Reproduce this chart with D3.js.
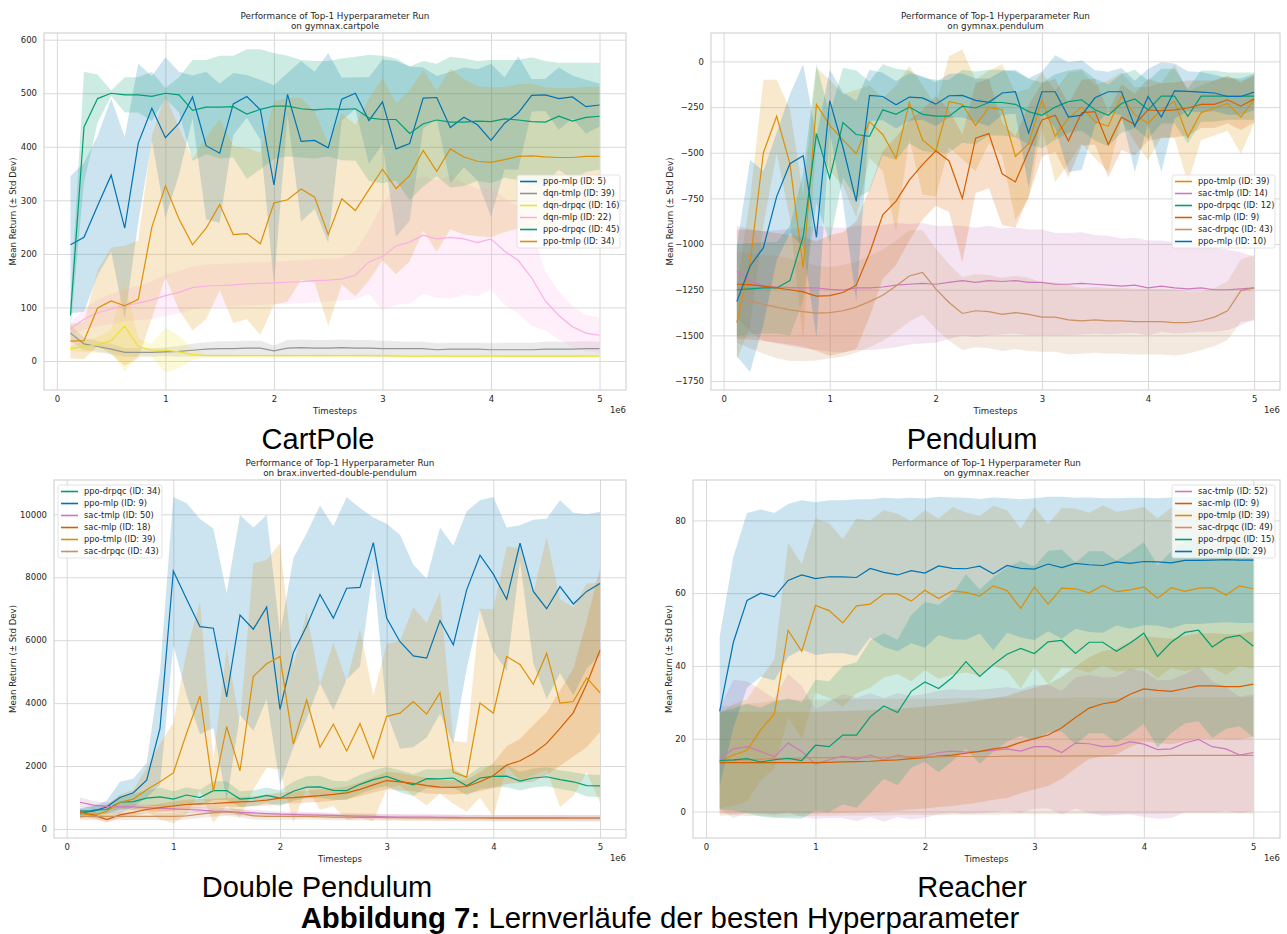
<!DOCTYPE html>
<html>
<head>
<meta charset="utf-8">
<script src="https://cdn.jsdelivr.net/npm/d3@7"></script>
<style>
  body { margin: 0; background: #fff; }
  text { font-family: "DejaVu Sans", sans-serif; fill: #262626; }
  .fig-label { font-family: "Liberation Sans", Arial, sans-serif; fill: #000; }
</style>
</head>
<body>
<svg id="fig" width="1287" height="934"></svg>
<script>
// timesteps in units of 1e6
const steps = [0.125, 0.25, 0.375, 0.5, 0.625, 0.75, 0.875, 1.0, 1.125, 1.25,
  1.375, 1.5, 1.625, 1.75, 1.875, 2.0, 2.125, 2.25, 2.375, 2.5,
  2.625, 2.75, 2.875, 3.0, 3.125, 3.25, 3.375, 3.5, 3.625, 3.75,
  3.875, 4.0, 4.125, 4.25, 4.375, 4.5, 4.625, 4.75, 4.875, 5.0];
const xTicks = [0, 1, 2, 3, 4, 5];

// ---- CartPole
const cpYTicks = [0, 100, 200, 300, 400, 500, 600];
const cpPpoMlp = [217,231,290,347,248,407,472,417,444,493, 402,388,480,494,469,329,498,410,412,398, 489,500,449,484,396,406,491,492,436,455, 441,412,444,463,496,497,490,493,475,478];
const cpPpoMlpStd = [128,139,130,143,170,148,60,150,96,40, 138,130,58,40,56,186,40,150,128,177, 40,30,81,79,164,144,57,40,104,93, 104,143,86,106,30,30,58,40,50,40];
const cpDqnTmlp = [52,32,27,22,16,16,16,17,18,20, 22,23,23,24,24,19,24,25,24,24, 25,24,24,23,23,23,23,21,22,22, 22,21,21,21,21,22,22,22,23,23];
const cpDqnTmlpStd = [15,12,10,10,8,8,8,8,10,12, 13,14,14,14,14,10,15,15,15,15, 15,15,15,15,14,13,13,12,12,12, 12,12,13,13,13,14,14,14,14,13];
const cpDqnDrpqc = [23,27,30,38,65,27,20,20,17,12, 10,10,10,10,10,10,10,10,10,10, 10,10,10,10,9,9,9,9,9,9, 9,9,9,9,9,9,9,9,9,9];
const cpDqnDrpqcStd = [5,10,15,20,85,15,12,42,30,10, 3,3,3,3,3,3,3,3,3,3, 3,3,3,3,3,3,3,3,3,3, 3,3,3,3,3,3,3,3,3,3];
const cpDqnMlp = [60,78,90,97,104,108,114,122,128,137, 140,141,142,144,145,146,147,148,150,151, 153,160,185,195,215,222,235,228,231,228, 221,228,205,188,155,112,85,64,52,48];
const cpDqnMlpStd = [10,20,25,28,30,32,35,38,40,40, 40,40,40,40,40,40,40,40,40,40, 40,45,60,100,110,115,110,110,115,105, 100,95,100,100,90,55,45,38,34,33];
const cpPpoDrpqc = [85,437,490,500,497,497,494,500,497,468, 474,474,475,461,470,476,476,471,469,471, 470,471,454,451,451,425,443,450,446,446, 448,447,452,450,447,446,457,448,455,457];
const cpPpoDrpqcStd = [25,103,45,5,33,33,46,10,33,94, 88,96,95,121,112,99,94,91,91,89, 95,97,118,119,114,125,117,105,122,119, 112,115,110,112,120,114,100,109,102,100];
const cpPpoTmlp = [37,38,99,112,103,115,250,327,265,217, 248,292,236,238,219,295,301,321,306,236, 303,281,320,358,322,346,393,354,396,381, 373,371,376,382,383,381,380,380,382,382];
const cpPpoTmlpStd = [32,35,70,100,112,110,170,170,170,160, 170,160,165,160,170,190,190,170,160,170, 160,160,170,170,160,160,150,150,150,145, 140,140,135,135,135,130,130,130,130,130];

// ---- Pendulum
const pdYTicks = [-1750, -1500, -1250, -1000, -750, -500, -250, 0];
const pdPpoTmlp = [-1430,-1100,-500,-300,-560,-1130,-235,-350,-430,-505, -330,-400,-530,-225,-430,-490,-220,-235,-350,-250, -265,-520,-450,-210,-410,-310,-250,-330,-355,-190, -290,-340,-265,-220,-415,-280,-255,-230,-305,-210];
const pdPpoTmlpStd = [200,350,400,200,300,400,200,250,250,350, 200,200,400,200,300,250,250,300,250,200, 250,350,300,150,250,250,200,200,250,130, 150,200,150,200,250,150,150,150,200,130];
const pdSacTmlp = [-1150,-1200,-1230,-1235,-1238,-1240,-1240,-1248,-1252,-1240, -1240,-1235,-1225,-1220,-1215,-1220,-1210,-1200,-1210,-1200, -1205,-1200,-1210,-1210,-1220,-1220,-1215,-1220,-1225,-1230, -1225,-1240,-1230,-1240,-1245,-1240,-1250,-1250,-1245,-1240];
const pdSacTmlpStd = [250,280,300,310,320,330,340,340,340,340, 340,340,340,330,330,320,310,300,300,300, 290,290,290,290,280,280,280,270,270,260, 260,260,250,250,240,240,230,220,200,170];
const pdPpoDrpqc = [-1250,-1245,-1240,-1240,-1200,-960,-395,-640,-335,-400, -410,-265,-290,-250,-290,-300,-300,-245,-255,-225, -225,-235,-275,-295,-250,-220,-210,-265,-295,-230, -205,-265,-190,-190,-300,-190,-190,-190,-190,-190];
const pdPpoDrpqcStd = [250,250,250,250,300,350,380,350,300,350, 300,250,250,200,200,200,200,200,200,180, 180,180,180,180,180,170,170,170,170,160, 160,160,150,150,150,140,140,130,130,130];
const pdSacMlp = [-1220,-1222,-1230,-1240,-1250,-1262,-1285,-1282,-1265,-1225, -1050,-840,-765,-650,-565,-490,-545,-750,-420,-395, -615,-660,-490,-320,-295,-435,-280,-275,-455,-305, -345,-265,-270,-265,-255,-235,-235,-210,-245,-205];
const pdSacMlpStd = [300,300,300,300,300,300,300,330,330,350, 350,350,350,330,300,300,280,350,300,300, 280,250,250,200,200,200,180,180,180,180, 170,170,150,150,150,130,130,130,130,130];
const pdSacDrpqc = [-1290,-1310,-1330,-1345,-1360,-1370,-1378,-1375,-1365,-1345, -1315,-1280,-1230,-1175,-1155,-1245,-1320,-1380,-1365,-1370, -1385,-1375,-1385,-1400,-1400,-1415,-1420,-1415,-1420,-1420, -1425,-1425,-1425,-1430,-1430,-1420,-1400,-1365,-1255,-1240];
const pdSacDrpqcStd = [250,260,270,280,280,270,260,250,250,250, 250,250,250,250,230,220,210,200,200,200, 200,200,200,190,190,190,180,180,180,180, 180,180,180,180,170,160,160,160,170,180];
const pdPpoMlp = [-1314,-1120,-1020,-740,-560,-516,-962,-215,-470,-766, -186,-192,-237,-195,-200,-234,-188,-186,-213,-224, -173,-166,-392,-166,-166,-305,-294,-199,-166,-166, -356,-192,-305,-161,-164,-168,-173,-192,-192,-168];
const pdPpoMlpStd = [300,580,420,350,380,500,550,170,300,550, 140,130,130,130,120,120,120,120,120,130, 120,120,300,110,200,300,300,150,110,130, 250,150,300,150,110,110,100,100,100,100];

// ---- Double Pendulum
const dpYTicks = [0, 2000, 4000, 6000, 8000, 10000];
const dpPpoDrpqc = [480,600,620,850,870,980,1020,950,1080,1000, 1220,1220,950,980,1070,980,1200,1330,1340,1230, 1220,1420,1570,1670,1520,1400,1600,1590,1620,1370, 1620,1670,1680,1520,1620,1660,1570,1500,1380,1370];
const dpPpoDrpqcStd = [150,150,150,200,250,250,300,250,250,250, 300,300,250,250,250,250,300,350,350,300, 300,300,300,300,350,350,300,300,300,300, 350,350,350,300,300,300,300,300,350,350];
const dpPpoMlp = [572,570,700,1000,1150,1550,3200,8200,7300,6430, 6380,4200,6800,6350,7050,3800,5600,6450,7450,6700, 7650,7680,9100,6700,5950,5500,5430,6620,5850,7600, 8700,8100,7300,9080,7550,7000,7700,7150,7550,7800];
const dpPpoMlpStd = [100,150,200,500,450,550,1800,2350,3050,3420, 3170,3300,3180,3230,2930,2400,3000,2950,2830,2920, 2900,2520,800,3000,3400,2900,2520,2960,3150,2500, 1750,2450,2280,570,2280,2860,2750,2900,2450,2280];
const dpSacTmlp = [850,760,720,700,700,680,660,640,620,600, 570,560,530,510,490,470,460,450,440,430, 420,410,400,390,380,380,375,370,370,365, 365,360,360,360,360,360,360,355,355,355];
const dpSacTmlpStd = [150,130,120,110,100,100,100,100,100,100, 100,100,100,100,90,90,90,90,90,90, 90,90,90,90,90,90,90,90,90,90, 90,90,90,90,90,90,90,90,90,90];
const dpSacMlp = [520,450,300,450,530,620,680,730,780,800, 810,840,860,880,920,980,1000,1030,1060,1100, 1150,1260,1400,1540,1500,1450,1380,1330,1320,1350, 1500,1700,2030,2170,2400,2720,3200,3700,4600,5680];
const dpSacMlpStd = [100,100,100,100,120,120,130,140,150,150, 150,150,160,160,170,180,180,190,200,200, 200,220,250,280,280,250,250,220,220,220, 300,400,600,700,900,1000,1200,1400,2000,2600];
const dpPpoTmlp = [500,430,560,850,950,1250,1500,1780,3050,4230, 1200,3250,1850,4850,5250,5480,2700,4100,2600,3330, 2480,3350,2250,3580,3680,4050,3650,4330,1800,1650, 4000,3680,5480,5230,4600,5580,4000,4050,4800,4330];
const dpPpoTmlpStd = [150,100,200,250,300,700,1200,1600,2600,3000, 1000,2500,1500,3600,3300,3600,2500,2800,2000,2600, 2200,3000,2000,2300,2300,3000,2900,3200,1000,1100, 3000,3300,3500,3700,2900,3700,3300,3000,3000,3500];
const dpSacDrpqc = [400,400,400,400,400,400,400,400,420,470, 520,540,500,420,400,400,400,400,390,380, 380,370,370,360,360,350,350,350,345,345, 345,340,340,340,340,340,340,340,340,340];
const dpSacDrpqcStd = [120,120,120,120,120,120,120,120,120,120, 130,130,130,120,110,110,110,100,100,100, 100,100,100,100,100,100,100,100,100,100, 100,100,100,100,100,100,100,100,100,100];

// ---- Reacher
const rcYTicks = [0, 20, 40, 60, 80];
const rcSacTmlp = [14.5,17.2,17.8,16.5,15,18.8,16.5,13,14.2,15.2, 14.3,15.5,14.2,15.5,14.8,15.3,16.2,16.6,16.3,16.5, 16.8,17.2,16.6,17.8,17.8,16.2,18.8,18.6,17.8,18, 19.2,18.5,17,17.2,18.8,19.8,17.8,17.2,15.5,16.2];
const rcSacTmlpStd = [14,19,18,17,16,19,18,15,16,17, 17,17,17,17,17,17,17,17,17,17, 17,17,17,17,17,17,18,19,19,19, 20,20,19,19,19,20,18,17,16,16];
const rcSacMlp = [13.4,13.4,13.4,13.4,13.4,13.4,13.4,13.4,13.5,13.6, 13.7,13.8,14,14.2,14.5,14.8,15.2,15.5,16,16.5, 17.2,17.7,19,20,21,23,25.8,28.4,29.6,30.2, 32.2,33.7,33.3,33,33.8,34.5,34.5,34.3,34.3,35];
const rcSacMlpStd = [14,14,14,14,14,14,14,14,14,14, 14,14,14,14,14,14,14,14,14,14, 14,14,14,14,14,14,14,14,14.5,14.5, 14.5,14.5,14.5,14.5,14.5,14.5,14.5,14.5,14.5,14.5];
const rcPpoTmlp = [13.8,15.5,16.8,22.5,26.8,49.8,44,56.6,55.2,51.8, 56.5,57,59.8,59.8,57.8,60.8,58.5,60.6,60.2,59.2, 62,60.7,55.8,61.7,57,61.4,61.2,60.1,62.1,60.4, 60.9,61.7,58.6,61.5,60.5,61.4,61.5,59.5,62,61.2];
const rcPpoTmlpStd = [13,14,14,14,15,24,24,24,24,23, 24,23,23,22,22,22,22,23,22,22, 22,22,22,22,22,22,22,22,22,22, 22,22,22,22,22,22,22,22,22,22];
const rcSacDrpqc = [13.8,14,14.2,14.4,14.5,14.6,14.7,14.8,14.8,14.9, 14.9,14.9,14.9,15,15,15,15,15.1,15.1,15.1, 15.1,15.2,15.2,15.2,15.2,15.2,15.3,15.3,15.3,15.3, 15.3,15.3,15.3,15.4,15.4,15.4,15.4,15.4,15.4,15.4];
const rcSacDrpqcStd = [15,15,15.5,15.5,16,16,16,16,16,16, 16,16,16,16,16,16,16,16,16,16, 16,16,16,16,16,16,16,16,16,16, 16,16,16,16,16,16,16,16,16,16];
const rcPpoDrpqc = [14,14.2,14.5,13.6,14.2,14.6,14,18.2,17.8,21, 21,26,29,27.2,33,35.6,33.8,36.8,41.2,37.1, 40.4,43.2,44.8,43.4,46.6,47,43.4,46.5,46.5,44, 46.3,49,42.6,46.5,49.2,49.8,45.2,47.7,48.4,45.4];
const rcPpoDrpqcStd = [13.5,14,15,15,16,16.5,16,18,18,19, 20,21,20,20,21,22,23,23,24,24, 24,24,24,24,25,25,25,25,25,25, 25,25,25,25,25,25,25,25,25,25];
const rcPpoMlp = [27.5,46.5,58,60,59,63.5,65,64,64.5,64.5, 64.3,66.8,65.7,65,66.2,65.5,67.5,66.8,66.7,67.4, 65.3,67.6,66.8,66.6,68,67,68.2,67.8,67.6,68.6, 68.2,68.7,68.6,68.3,69,69,69.1,69.2,69.1,69.1];
const rcPpoMlpStd = [20.5,23.5,24,23,23,21,20.5,21,21,21, 21.5,19,20.5,21,20,20.5,19,19.5,19.5,18.5, 21,18.5,19,19.5,18.5,19.5,18,18.5,18.5,17.5, 18,17.5,17.5,18,17.5,17.5,17.3,17.2,17.3,17.3];

const palette = {
  'ppo-mlp': '#0173b2', 'ppo-tmlp': '#de8f05', 'ppo-drpqc': '#029e73',
  'sac-mlp': '#d55e00', 'sac-tmlp': '#cc78bc', 'sac-drpqc': '#ca9161',
  'dqn-mlp': '#fbafe4', 'dqn-tmlp': '#949494', 'dqn-drpqc': '#ece133'
};

const panels = [
  { env: 'gymnax.cartpole', label: 'CartPole', labelX: 318, labelY: 449,
    box: { left: 44, top: 33, right: 626, bottom: 390 }, yDomain: [-54.2, 612.5], yTicks: cpYTicks, yLabelX: 13,
    legend: { x: 517, y: 175, w: 103 },
    series: [
      { algo: 'ppo-mlp', id: 5, mean: cpPpoMlp, std: cpPpoMlpStd },
      { algo: 'dqn-tmlp', id: 39, mean: cpDqnTmlp, std: cpDqnTmlpStd },
      { algo: 'dqn-drpqc', id: 16, mean: cpDqnDrpqc, std: cpDqnDrpqcStd },
      { algo: 'dqn-mlp', id: 22, mean: cpDqnMlp, std: cpDqnMlpStd },
      { algo: 'ppo-drpqc', id: 45, mean: cpPpoDrpqc, std: cpPpoDrpqcStd },
      { algo: 'ppo-tmlp', id: 34, mean: cpPpoTmlp, std: cpPpoTmlpStd }
    ] },
  { env: 'gymnax.pendulum', label: 'Pendulum', labelX: 972, labelY: 449,
    box: { left: 711, top: 33, right: 1280, bottom: 390 }, yDomain: [-1799, 155.6], yTicks: pdYTicks, yLabelX: 670,
    legend: { x: 1172, y: 175, w: 103 },
    series: [
      { algo: 'ppo-tmlp', id: 39, mean: pdPpoTmlp, std: pdPpoTmlpStd },
      { algo: 'sac-tmlp', id: 14, mean: pdSacTmlp, std: pdSacTmlpStd },
      { algo: 'ppo-drpqc', id: 12, mean: pdPpoDrpqc, std: pdPpoDrpqcStd },
      { algo: 'sac-mlp', id: 9, mean: pdSacMlp, std: pdSacMlpStd },
      { algo: 'sac-drpqc', id: 43, mean: pdSacDrpqc, std: pdSacDrpqcStd },
      { algo: 'ppo-mlp', id: 10, mean: pdPpoMlp, std: pdPpoMlpStd }
    ] },
  { env: 'brax.inverted-double-pendulum', label: 'Double Pendulum', labelX: 317, labelY: 897,
    box: { left: 54, top: 480, right: 626, bottom: 838 }, yDomain: [-286, 11090], yTicks: dpYTicks, yLabelX: 13,
    legend: { x: 58, y: 485, w: 104 },
    series: [
      { algo: 'ppo-drpqc', id: 34, mean: dpPpoDrpqc, std: dpPpoDrpqcStd },
      { algo: 'ppo-mlp', id: 9, mean: dpPpoMlp, std: dpPpoMlpStd },
      { algo: 'sac-tmlp', id: 50, mean: dpSacTmlp, std: dpSacTmlpStd },
      { algo: 'sac-mlp', id: 18, mean: dpSacMlp, std: dpSacMlpStd },
      { algo: 'ppo-tmlp', id: 39, mean: dpPpoTmlp, std: dpPpoTmlpStd },
      { algo: 'sac-drpqc', id: 43, mean: dpSacDrpqc, std: dpSacDrpqcStd }
    ] },
  { env: 'gymnax.reacher', label: 'Reacher', labelX: 972, labelY: 897,
    box: { left: 693, top: 480, right: 1280, bottom: 838 }, yDomain: [-7.3, 91.1], yTicks: rcYTicks, yLabelX: 669,
    legend: { x: 1172, y: 485, w: 103 },
    series: [
      { algo: 'sac-tmlp', id: 52, mean: rcSacTmlp, std: rcSacTmlpStd },
      { algo: 'sac-mlp', id: 9, mean: rcSacMlp, std: rcSacMlpStd },
      { algo: 'ppo-tmlp', id: 39, mean: rcPpoTmlp, std: rcPpoTmlpStd },
      { algo: 'sac-drpqc', id: 49, mean: rcSacDrpqc, std: rcSacDrpqcStd },
      { algo: 'ppo-drpqc', id: 15, mean: rcPpoDrpqc, std: rcPpoDrpqcStd },
      { algo: 'ppo-mlp', id: 29, mean: rcPpoMlp, std: rcPpoMlpStd }
    ] }
];

const svg = d3.select('#fig');
const fmt = d => String(d).replace('-', '\u2212');

panels.forEach((p, pi) => {
  let b = p.box;
  let x = d3.scaleLinear().domain([-0.11875, 5.24375]).range([b.left, b.right]);
  let y = d3.scaleLinear().domain(p.yDomain).range([b.bottom, b.top]);
  let g = svg.append('g');

  g.append('clipPath').attr('id', 'clip' + pi)
    .append('rect')
    .attr('x', b.left).attr('y', b.top)
    .attr('width', b.right - b.left).attr('height', b.bottom - b.top);

  // grid + tick labels
  let xAxis = d3.axisBottom(x).tickValues(xTicks).tickSize(-(b.bottom - b.top)).tickPadding(6).tickFormat(d3.format('d'));
  let yAxis = d3.axisLeft(y).tickValues(p.yTicks).tickSize(-(b.right - b.left)).tickPadding(7).tickFormat(fmt);

  g.append('g').attr('transform', 'translate(0,' + b.bottom + ')').call(xAxis)
    .call(s => s.select('.domain').remove())
    .call(s => s.selectAll('line').attr('stroke', '#d9d9d9').attr('stroke-width', 1))
    .call(s => s.selectAll('text').style('font-size', '8.5px').attr('fill', '#262626'));
  g.append('g').attr('transform', 'translate(' + b.left + ',0)').call(yAxis)
    .call(s => s.select('.domain').remove())
    .call(s => s.selectAll('line').attr('stroke', '#d9d9d9').attr('stroke-width', 1))
    .call(s => s.selectAll('text').style('font-size', '8.5px').attr('fill', '#262626'));

  let plot = g.append('g').attr('clip-path', 'url(#clip' + pi + ')');
  let bands = plot.append('g'), lines = plot.append('g');
  p.series.forEach(s => {
    let c = palette[s.algo];
    let area = d3.area()
      .x((d, i) => x(steps[i]))
      .y0((d, i) => y(d - s.std[i]))
      .y1((d, i) => y(d + s.std[i]));
    let line = d3.line().x((d, i) => x(steps[i])).y(d => y(d));
    bands.append('path').datum(s.mean).attr('d', area)
      .attr('fill', c).attr('fill-opacity', 0.2).attr('stroke', 'none');
    lines.append('path').datum(s.mean).attr('d', line)
      .attr('fill', 'none').attr('stroke', c).attr('stroke-width', 1.2);
  });

  // frame
  g.append('rect').attr('x', b.left).attr('y', b.top)
    .attr('width', b.right - b.left).attr('height', b.bottom - b.top)
    .attr('fill', 'none').attr('stroke', '#cccccc').attr('stroke-width', 1);

  // titles
  let cx = (b.left + b.right) / 2;
  g.append('text').attr('x', cx).attr('y', b.top - 14).attr('text-anchor', 'middle')
    .style('font-size', '8.8px').text('Performance of Top-1 Hyperparameter Run');
  g.append('text').attr('x', cx).attr('y', b.top - 4).attr('text-anchor', 'middle')
    .style('font-size', '8.8px').text('on ' + p.env);
  g.append('text').attr('x', cx).attr('y', b.bottom + 24).attr('text-anchor', 'middle')
    .style('font-size', '8.6px').text('Timesteps');
  g.append('text').attr('x', b.right).attr('y', b.bottom + 23).attr('text-anchor', 'end')
    .style('font-size', '8.5px').text('1e6');
  g.append('text')
    .attr('transform', 'translate(' + (p.yLabelX + 3) + ',' + ((b.top + b.bottom) / 2) + ') rotate(-90)')
    .attr('text-anchor', 'middle').style('font-size', '8.6px')
    .text('Mean Return (\u00b1 Std Dev)');

  // legend
  let L = p.legend;
  let lg = g.append('g');
  lg.append('rect').attr('x', L.x).attr('y', L.y).attr('width', L.w).attr('height', 73)
    .attr('rx', 2).attr('fill', '#fff').attr('fill-opacity', 0.8)
    .attr('stroke', '#dcdcdc').attr('stroke-width', 0.8);
  p.series.forEach((s, i) => {
    let ly = L.y + 6.5 + i * 12;
    lg.append('line').attr('x1', L.x + 3).attr('x2', L.x + 20).attr('y1', ly).attr('y2', ly)
      .attr('stroke', palette[s.algo]).attr('stroke-width', 1.6);
    lg.append('text').attr('x', L.x + 26).attr('y', ly).attr('dy', '0.35em')
      .style('font-size', '8.3px').text(s.algo + ' (ID: ' + s.id + ')');
  });

  svg.append('text').attr('class', 'fig-label').attr('x', p.labelX).attr('y', p.labelY)
    .attr('text-anchor', 'middle').style('font-size', '29px').text(p.label);
});

let cap = svg.append('text').attr('class', 'fig-label').attr('x', 660).attr('y', 928)
  .attr('text-anchor', 'middle').style('font-size', '29.4px');
cap.append('tspan').attr('font-weight', 'bold').text('Abbildung 7:');
cap.append('tspan').text(' Lernverl\u00e4ufe der besten Hyperparameter');
</script>
</body>
</html>
